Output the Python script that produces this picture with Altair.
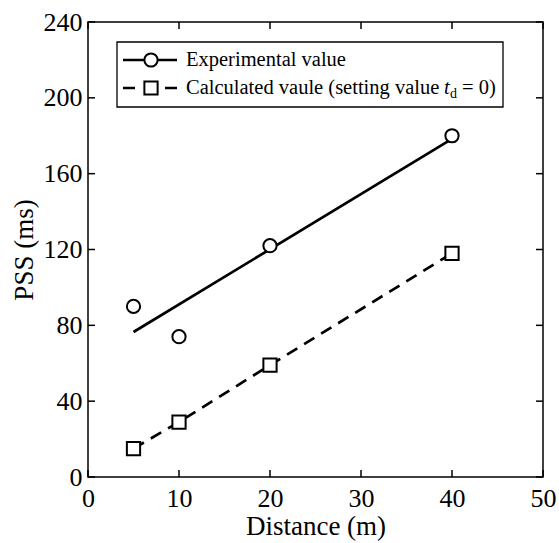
import altair as alt
import pandas as pd

# Measured PSS versus distance, and the model values with t_d = 0
distance = [5, 10, 20, 40]
experimental = [90, 74, 122, 180]
calculated = [15, 29, 59, 118]
x_ticks = [0, 10, 20, 30, 40, 50]
y_ticks = [0, 40, 80, 120, 160, 200, 240]

W = H = 455
FONT = "Liberation Serif"
TICK = 7

df = pd.DataFrame({"distance": distance, "experimental": experimental, "calculated": calculated})
xt = pd.DataFrame({"t": x_ticks})
yt = pd.DataFrame({"t": y_ticks})
one = pd.DataFrame({"k": [0]})

x_scale = alt.Scale(domain=[0, 50], nice=False)
y_scale = alt.Scale(domain=[0, 240], nice=False)
x_axis = alt.Axis(values=x_ticks, title="Distance (m)")
y_axis = alt.Axis(values=y_ticks, title="PSS (ms)")


def xq(field):
    return alt.X(f"{field}:Q", scale=x_scale, axis=x_axis)


def yq(field):
    return alt.Y(f"{field}:Q", scale=y_scale, axis=y_axis)


base = alt.Chart(df)
sym = dict(size=175, fill="white", stroke="black", strokeWidth=2, opacity=1, fillOpacity=1)

# Least-squares fit through the measured points
exp_fit = base.transform_regression(
    "distance", "experimental", extent=[5, 40]
).mark_line(color="black", strokeWidth=2.7).encode(x=xq("distance"), y=yq("experimental"))

exp_pts = base.mark_point(shape="circle", **sym).encode(x=xq("distance"), y=yq("experimental"))

calc_line = base.mark_line(color="black", strokeWidth=2.7, strokeDash=[12, 8]).encode(
    x=xq("distance"), y=yq("calculated"))

calc_pts = base.mark_point(shape="square", **sym).encode(x=xq("distance"), y=yq("calculated"))

# Inward tick marks on all four sides
tick_style = dict(color="black", strokeWidth=1.5)
y_left = alt.Chart(yt).mark_rule(**tick_style).encode(
    y=yq("t"), x=alt.value(0), x2=alt.value(TICK))
y_right = alt.Chart(yt).mark_rule(**tick_style).encode(
    y=yq("t"), x=alt.value(W - TICK), x2=alt.value(W))
x_bottom = alt.Chart(xt).mark_rule(**tick_style).encode(
    x=xq("t"), y=alt.value(H - TICK), y2=alt.value(H))
x_top = alt.Chart(xt).mark_rule(**tick_style).encode(
    x=xq("t"), y=alt.value(0), y2=alt.value(TICK))

# Legend box
leg = alt.Chart(one)
box = leg.mark_rect(fill="white", stroke="black", strokeWidth=1.3).encode(
    x=alt.value(29), x2=alt.value(415), y=alt.value(20), y2=alt.value(85))
r1, r2 = 38, 66
leg_line1 = leg.mark_rule(color="black", strokeWidth=2.7).encode(
    x=alt.value(35), x2=alt.value(89), y=alt.value(r1))
leg_pt1 = leg.mark_point(shape="circle", **sym).encode(x=alt.value(63), y=alt.value(r1))
leg_line2 = leg.mark_rule(color="black", strokeWidth=2.7, strokeDash=[12, 30]).encode(
    x=alt.value(35), x2=alt.value(89), y=alt.value(r2))
leg_pt2 = leg.mark_point(shape="square", **sym).encode(x=alt.value(63), y=alt.value(r2))

txt = dict(font=FONT, fontSize=20.5, color="black", align="left", baseline="middle")
leg_t1 = leg.mark_text(text="Experimental value", **txt).encode(
    x=alt.value(98), y=alt.value(r1))
leg_t2 = leg.mark_text(text="Calculated vaule (setting value", **txt).encode(
    x=alt.value(98), y=alt.value(r2))
leg_t2_t = leg.mark_text(text="t", fontStyle="italic", **txt).encode(
    x=alt.value(356), y=alt.value(r2))
leg_t2_d = leg.mark_text(text="d", font=FONT, fontSize=14, color="black",
                         align="left", baseline="middle").encode(
    x=alt.value(362), y=alt.value(r2 + 6))
leg_t2_end = leg.mark_text(text="= 0)", **txt).encode(
    x=alt.value(374), y=alt.value(r2))

chart = alt.layer(
    exp_fit, calc_line, exp_pts, calc_pts,
    y_left, y_right, x_bottom, x_top,
    box, leg_line1, leg_pt1, leg_line2, leg_pt2,
    leg_t1, leg_t2, leg_t2_t, leg_t2_d, leg_t2_end,
).properties(
    width=W, height=H,
    autosize=alt.AutoSizeParams(type="none"),
    padding={"left": 88, "top": 22, "right": 16, "bottom": 66},
    background="white",
).configure_view(
    stroke="black", strokeWidth=1.5
).configure_axis(
    labelFont=FONT, labelFontSize=26, labelColor="black",
    titleFont=FONT, titleFontSize=27, titleFontWeight="normal", titleColor="black",
    domain=False, ticks=False, grid=False, labelFlush=False, labelOverlap=False,
).configure_axisX(
    labelPadding=8, titlePadding=2
).configure_axisY(
    labelPadding=6, titlePadding=5
)

chart.save("out.html", embed_options={"renderer": "svg", "actions": False})
